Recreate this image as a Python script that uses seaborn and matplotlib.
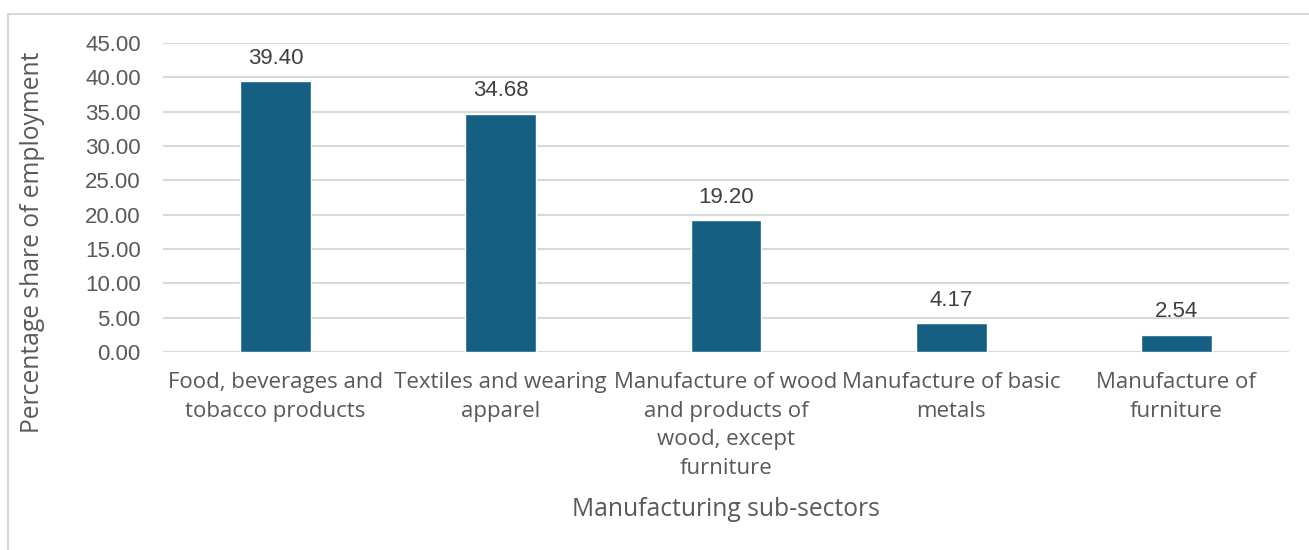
import matplotlib
matplotlib.use("Agg")
import matplotlib.pyplot as plt
from matplotlib.patches import Rectangle
import seaborn as sns
import pandas as pd

categories = [
    "Food, beverages and\ntobacco products",
    "Textiles and wearing\napparel",
    "Manufacture of wood\nand products of\nwood, except\nfurniture",
    "Manufacture of basic\nmetals",
    "Manufacture of\nfurniture",
]
shares = [39.40, 34.68, 19.20, 4.17, 2.54]
y_ticks = [0, 5, 10, 15, 20, 25, 30, 35, 40, 45]

df = pd.DataFrame({"sector": categories, "share": shares})

sns.set_theme(style="white")
plt.rcParams["font.family"] = ["Open Sans", "DejaVu Sans"]

text_color = "#595959"
grid_color = "#d9d9d9"
bar_color = "#156082"

fig = plt.figure(figsize=(13.09, 5.5), dpi=100)
ax = fig.add_axes([0.1245, 0.36, 0.8602, 0.5618])

sns.barplot(data=df, x="sector", y="share", color=bar_color, width=0.315,
            saturation=1, ax=ax, zorder=3)

ax.set_ylim(0, 45)
ax.set_xlim(-0.5, len(categories) - 0.5)
ax.set_yticks(y_ticks)
ax.set_yticklabels([f"{v:.2f}" for v in y_ticks], fontfamily="Liberation Sans",
                   fontsize=16, color=text_color)
ax.tick_params(axis="y", length=0, pad=16)
ax.tick_params(axis="x", length=0, pad=14.5)
for lbl in ax.get_xticklabels():
    lbl.set_fontsize(16)
    lbl.set_color(text_color)
    lbl.set_linespacing(1.47)
    lbl.set_verticalalignment("top")

for v in y_ticks:
    ax.axhline(v, color=grid_color, lw=1.5, zorder=1)

for s in ax.spines.values():
    s.set_visible(False)

for i, v in enumerate(shares):
    ax.annotate(f"{v:.2f}", (i, v), xytext=(0, 9), textcoords="offset points",
                ha="center", va="bottom", fontsize=16, color="#404040",
                fontfamily="Liberation Sans")

ax.set_xlabel("")
ax.set_ylabel("")
fig.text(0.0252, 0.56, "Percentage share of employment", rotation=90,
         ha="center", va="center", fontsize=17.7, color=text_color)
fig.text(0.5543, 0.0745, "Manufacturing sub-sectors", ha="center", va="center",
         fontsize=17.7, color=text_color)

# light outer frame (left and top edges fall inside the canvas)
fig.patches.append(Rectangle((8 / 1309, -0.1), 1.2, 1.0745,
                             transform=fig.transFigure, fill=False,
                             edgecolor=grid_color, lw=1.5, zorder=0))

fig.savefig("out.png", dpi=100, facecolor="white")
